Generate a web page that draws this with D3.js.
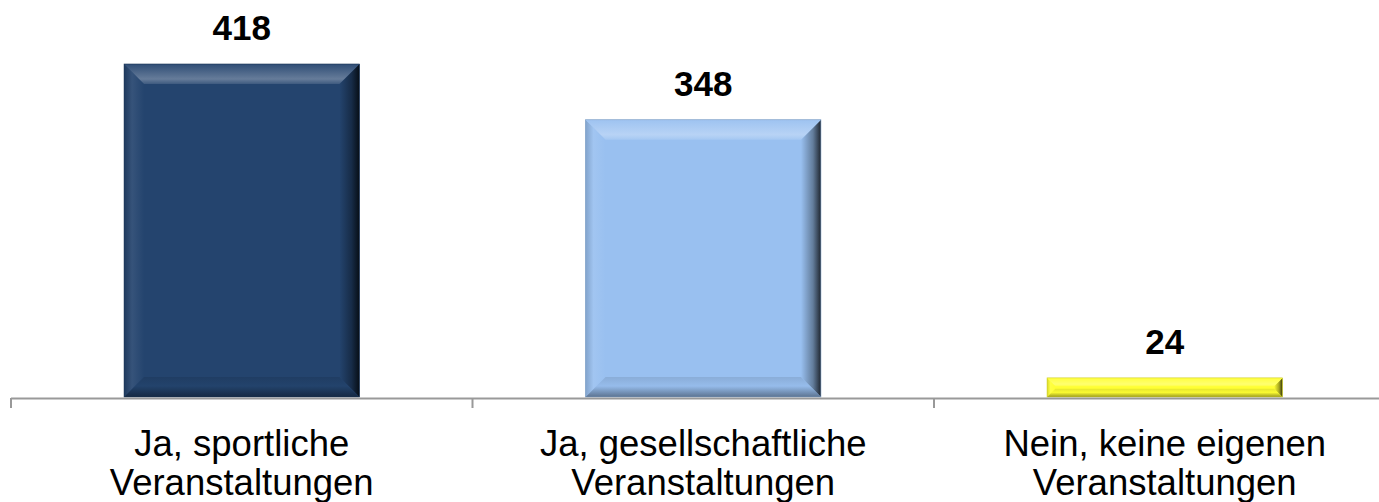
<!DOCTYPE html>
<html>
<head>
<meta charset="utf-8">
<title></title>
<style>
  body { margin: 0; background: #fff; }
  text { font-family: "Liberation Sans", Arial, sans-serif; }
</style>
</head>
<body>
<script src="https://cdn.jsdelivr.net/npm/d3@7"></script>
<script>
var width = 1379, height = 502;

var categories = [["Ja, sportliche", "Veranstaltungen"],
                  ["Ja, gesellschaftliche", "Veranstaltungen"],
                  ["Nein, keine eigenen", "Veranstaltungen"]];
var values = [418, 348, 24];
var barColors = ["#24446e", "#99c0f0", "#ffff33"];

var svg = d3.select("body").append("svg")
    .attr("width", width)
    .attr("height", height);

var x = d3.scaleBand()
    .domain(d3.range(values.length))
    .range([11, 11 + 3 * 461.5])
    .paddingInner(0.49)
    .paddingOuter(0.245);

var y = d3.scaleLinear()
    .domain([0, 418])
    .range([397, 64]);

var defs = svg.append("defs");

function shade(c, k) {
  return k > 0 ? d3.interpolateRgb(c, "#fff")(k) : d3.interpolateRgb(c, "#000")(-k);
}

barColors.forEach(function(c, i) {
  var g1 = defs.append("linearGradient").attr("id", "top" + i)
      .attr("x1", 0).attr("y1", 0).attr("x2", 0).attr("y2", 1);
  g1.append("stop").attr("offset", "0%").attr("stop-color", shade(c, 0.05));
  g1.append("stop").attr("offset", "75%").attr("stop-color", shade(c, 0.3));
  g1.append("stop").attr("offset", "100%").attr("stop-color", shade(c, 0.12));

  var g2 = defs.append("linearGradient").attr("id", "right" + i)
      .attr("x1", 0).attr("y1", 0).attr("x2", 1).attr("y2", 0);
  g2.append("stop").attr("offset", "0%").attr("stop-color", c);
  g2.append("stop").attr("offset", "60%").attr("stop-color", shade(c, -0.35));
  g2.append("stop").attr("offset", "100%").attr("stop-color", shade(c, -0.8));

  var g3 = defs.append("linearGradient").attr("id", "left" + i)
      .attr("x1", 0).attr("y1", 0).attr("x2", 1).attr("y2", 0);
  g3.append("stop").attr("offset", "0%").attr("stop-color", shade(c, -0.15));
  g3.append("stop").attr("offset", "40%").attr("stop-color", shade(c, 0.08));
  g3.append("stop").attr("offset", "100%").attr("stop-color", c);

  var g4 = defs.append("linearGradient").attr("id", "bottom" + i)
      .attr("x1", 0).attr("y1", 0).attr("x2", 0).attr("y2", 1);
  g4.append("stop").attr("offset", "0%").attr("stop-color", shade(c, -0.1));
  g4.append("stop").attr("offset", "45%").attr("stop-color", shade(c, -0.02));
  g4.append("stop").attr("offset", "100%").attr("stop-color", shade(c, -0.4));
});

var bars = svg.append("g").selectAll("g")
    .data(values)
    .enter().append("g");

bars.each(function(d, i) {
  var g = d3.select(this);
  var x0 = x(i), x1 = x(i) + x.bandwidth();
  var y0 = y(d), y1 = y(0);
  var b = Math.min(20, (y1 - y0) / 2.3);
  g.append("rect").attr("x", x0).attr("y", y0)
    .attr("width", x1 - x0).attr("height", y1 - y0)
    .attr("fill", barColors[i]);
  var line = function(p) { return "M" + p.join("L") + "Z"; };
  g.append("path").attr("fill", "url(#left" + i + ")")
    .attr("d", line([[x0, y0], [x0 + b, y0 + b], [x0 + b, y1 - b], [x0, y1]]));
  g.append("path").attr("fill", "url(#right" + i + ")")
    .attr("d", line([[x1, y0], [x1 - b, y0 + b], [x1 - b, y1 - b], [x1, y1]]));
  g.append("path").attr("fill", "url(#top" + i + ")")
    .attr("d", line([[x0, y0], [x1, y0], [x1 - b, y0 + b], [x0 + b, y0 + b]]));
  g.append("path").attr("fill", "url(#bottom" + i + ")")
    .attr("d", line([[x0, y1], [x1, y1], [x1 - b, y1 - b], [x0 + b, y1 - b]]));
  g.append("rect").attr("x", x0).attr("y", y0)
    .attr("width", x1 - x0).attr("height", y1 - y0)
    .attr("fill", "none").attr("stroke", shade(barColors[i], -0.2)).attr("stroke-width", 0.6);
});

// value labels
svg.append("g").selectAll("text")
    .data(values)
    .enter().append("text")
    .attr("x", function(d, i) { return x(i) + x.bandwidth() / 2; })
    .attr("y", function(d) { return y(d) - 24; })
    .attr("text-anchor", "middle")
    .attr("font-size", "35px")
    .attr("font-weight", "bold")
    .attr("fill", "#000")
    .text(function(d) { return d; });

// axis
var axis = svg.append("g");
axis.append("line")
    .attr("x1", 11).attr("x2", width)
    .attr("y1", 398.5).attr("y2", 398.5)
    .attr("stroke", "#999").attr("stroke-width", 2);
axis.selectAll(".tick")
    .data(d3.range(values.length + 1))
    .enter().append("line")
    .attr("x1", function(i) { return 11 + i * x.step(); })
    .attr("x2", function(i) { return 11 + i * x.step(); })
    .attr("y1", 398).attr("y2", 408)
    .attr("stroke", "#999").attr("stroke-width", 2);

var labels = svg.append("g").selectAll("text")
    .data(categories)
    .enter().append("text")
    .attr("text-anchor", "middle")
    .attr("font-size", "36.5px")
    .attr("fill", "#000");
labels.each(function(d, i) {
  var t = d3.select(this);
  d.forEach(function(s, j) {
    t.append("tspan")
      .attr("x", x(i) + x.bandwidth() / 2)
      .attr("y", 456 + j * 39)
      .text(s);
  });
});
</script>
</body>
</html>
